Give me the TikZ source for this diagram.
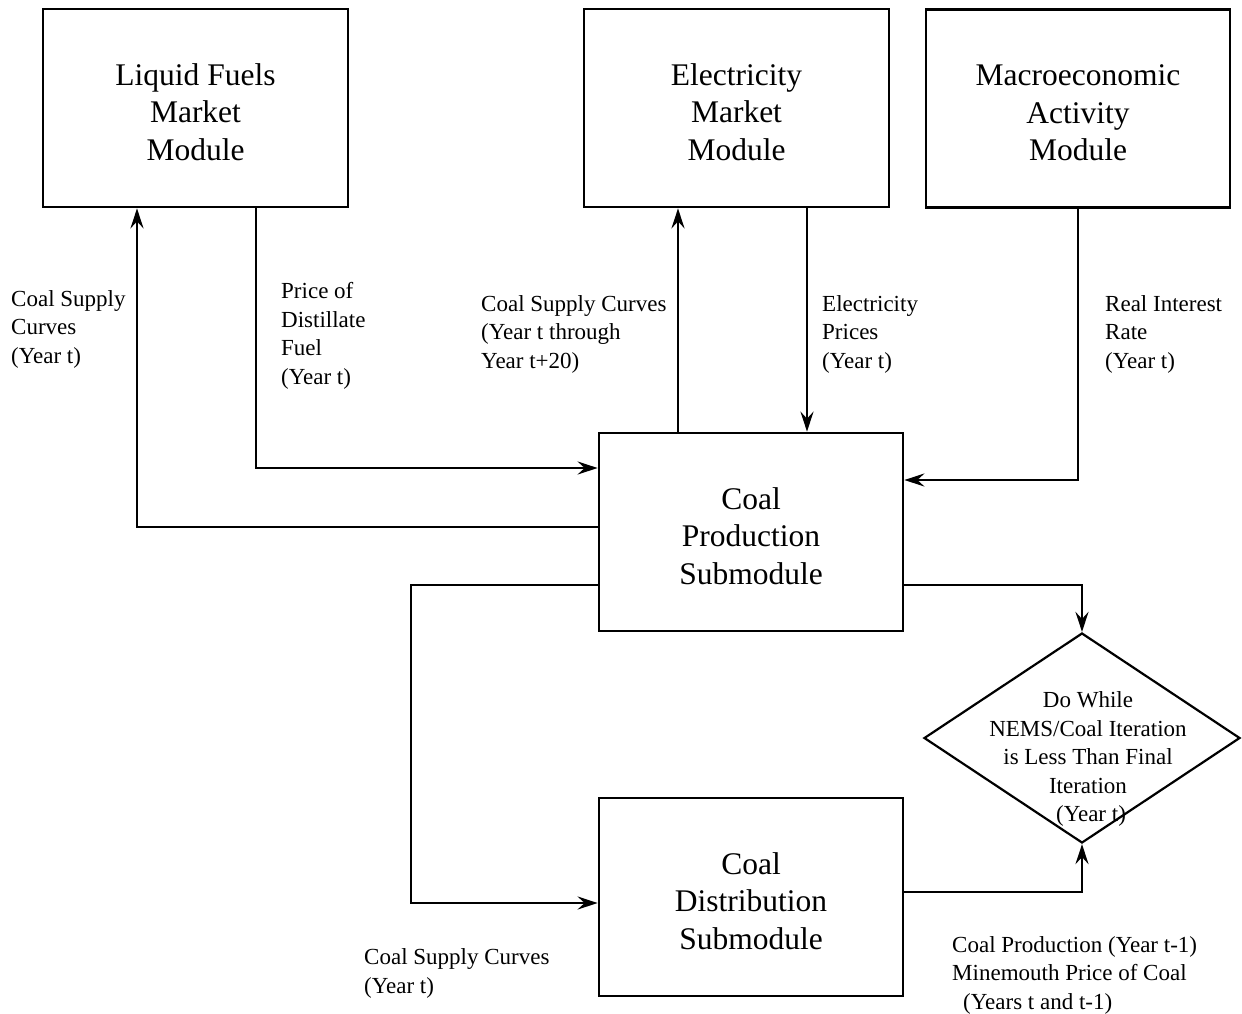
\documentclass[tikz,border=0pt]{standalone}
\usepackage{fontspec}
\setmainfont{Liberation Serif}
\usetikzlibrary{arrows.meta,shapes.geometric}
\newcommand{\toppad}{\rule{0pt}{30pt}}
\begin{document}
\begin{tikzpicture}[x=1pt,y=-1pt,
  box/.style={draw, line width=2.7pt, minimum width=305pt, minimum height=198pt, inner sep=0pt, align=center, font=\fontsize{31.5}{37.5}\selectfont},
  lbl/.style={anchor=base west, align=left, inner sep=0pt, font=\fontsize{23}{28.5}\selectfont},
  arr/.style={line width=2.6pt, -{Stealth[length=20pt,width=13pt,inset=7pt]}}]
\useasboundingbox (0,0) rectangle (1242,1013);
% modules
\node[box] (lf) at (195.5,108) {\toppad Liquid Fuels\\Market\\Module};
\node[box] (el) at (736.5,108) {\toppad Electricity\\Market\\Module};
\node[box, minimum width=304pt] (ma) at (1078,108.5) {\toppad Macroeconomic\\Activity\\Module};
\node[box, minimum width=304pt] (cp) at (751,532) {\toppad Coal\\Production\\Submodule};
\node[box, minimum width=304pt] (cd) at (751,897) {\toppad Coal\\Distribution\\Submodule};
\node[draw, diamond, line width=2.2pt, minimum width=316pt, minimum height=210pt, inner sep=0pt] (dm) at (1082,738) {};
\node[align=center, inner sep=0pt, font=\fontsize{23}{28.5}\selectfont] (dmt) at (1088,759) {Do While\\NEMS/Coal Iteration\\is Less Than Final\\Iteration\\\hspace*{6pt}(Year t)};
% connectors
\coordinate (lk) at (411,744);
\draw[arr] ([yshift=5pt]cp.west) -| ([xshift=-58.5pt]lf.south);
\draw[arr] ([xshift=60.5pt]lf.south) |- ([yshift=64pt]cp.west);
\draw[arr] ([xshift=-73pt]cp.north) -- ([xshift=-73pt]cp.north |- el.south);
\draw[arr] ([xshift=56pt]cp.north |- el.south) -- ([xshift=56pt]cp.north);
\draw[arr] (ma.south) |- ([yshift=52pt]cp.east);
\draw[arr] ([yshift=-53pt]cp.east) -| (dm.north);
\draw[arr] ([yshift=-53pt]cp.west) -| (lk) |- ([yshift=-6pt]cd.west);
\draw[arr] ([yshift=5pt]cd.east) -| (dm.south);
% labels (anchor at baseline of last line)
\node[lbl] (l1) at (11,363) {Coal Supply\\Curves\\(Year t)};
\node[lbl] (l2) at (281,384) {Price of\\Distillate\\Fuel\\(Year t)};
\node[lbl] (l3) at (481,368) {Coal Supply Curves\\(Year t through\\Year t+20)};
\node[lbl] (l4) at (822,368) {Electricity\\Prices\\(Year t)};
\node[lbl] (l5) at (1105,368) {Real Interest\\Rate\\(Year t)};
\node[lbl] (l6) at (364,993) {Coal Supply Curves\\(Year t)};
\node[lbl] (l7) at (952,1009) {Coal Production (Year t-1)\\Minemouth Price of Coal\\\hspace*{11pt}(Years t and t-1)};
\end{tikzpicture}
\end{document}
